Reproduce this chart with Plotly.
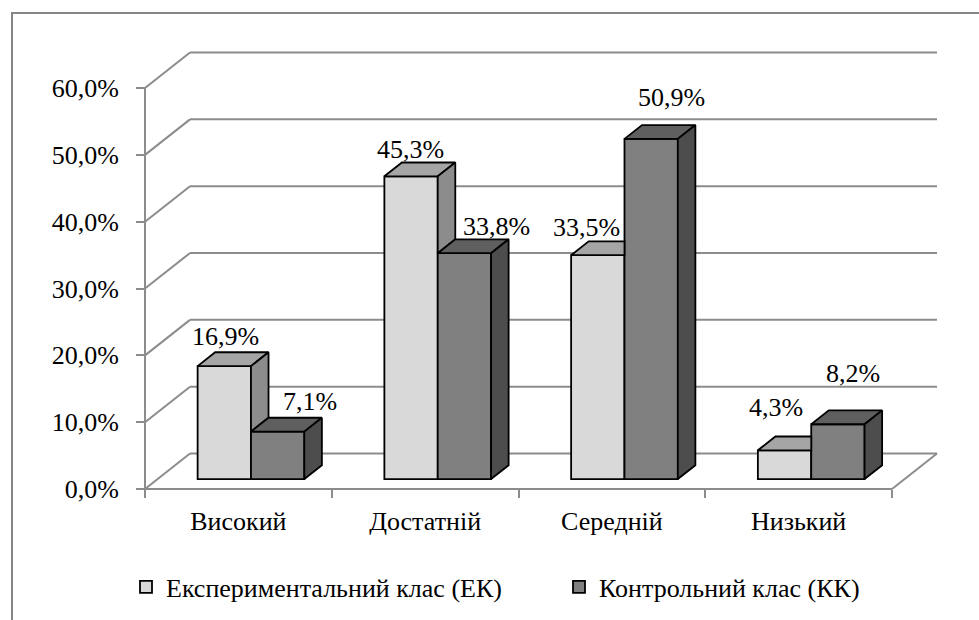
import plotly.graph_objects as go

# ---------------- data ----------------
categories = ["Високий", "Достатній", "Середній", "Низький"]
ek_values = [16.9, 45.3, 33.5, 4.3]
kk_values = [7.1, 33.8, 50.9, 8.2]
series_names = ["Експериментальний клас (ЕК)", "Контрольний клас (КК)"]
y_ticks = [0, 10, 20, 30, 40, 50, 60]
y_tick_text = [f"{v:.1f}%".replace(".", ",") for v in y_ticks]

# ---------------- style / geometry ----------------
W, H = 979, 620
X0_PX, Y0_PX = 145, 489          # front-left corner of the floor (0 %)
CAT_PX = 186.75                  # pixels per category
PCT_PX = 6.683                   # pixels per percent
DEPTH_PX = (45.0, 35.5)          # oblique depth of the 3-D box
DX = DEPTH_PX[0] / CAT_PX
DY = DEPTH_PX[1] / PCT_PX
F0, F1 = 0.28, 0.67              # bar front / back depth fractions
BAR_W = 1 / 3.5                  # gap width 150 %
GRID = "#8c8c8c"
FONT = "'Liberation Serif', 'Times New Roman', Tinos, 'DejaVu Serif', serif"
FS = 26
EDGE_W = 1.8
ek_cols = dict(front="#d9d9d9", top="#a5a5a5", side="#8c8c8c")
kk_cols = dict(front="#808080", top="#5f5f5f", side="#4d4d4d")
# label nudges in pixels (dx, dy) relative to the bar's front-top centre
ek_label_nudge = [(1, 30), (-1, 27), (-11, 28), (-9, 43)]
kk_label_nudge = [(32, 30), (32, 27), (20, 41), (15, 51)]
LEGEND_X_PX = (126, 559)
LEGEND_Y_PX = 587

ox0, oy0 = F0 * DX, F0 * DY
ox1, oy1 = F1 * DX, F1 * DY
n = len(categories)

xr = [-X0_PX / CAT_PX, (W - X0_PX) / CAT_PX]
yr = [-(H - Y0_PX) / PCT_PX, Y0_PX / PCT_PX]

fig = go.Figure()

# front faces as real bars
ek_x = [i + 0.5 - BAR_W / 2 + ox0 for i in range(n)]
kk_x = [i + 0.5 + BAR_W / 2 + ox0 for i in range(n)]
fig.add_trace(go.Bar(x=ek_x, y=ek_values, base=[oy0] * n, width=BAR_W,
                     name=series_names[0], legend="legend",
                     marker=dict(color=ek_cols["front"], line=dict(color="black", width=EDGE_W))))
fig.add_trace(go.Bar(x=kk_x, y=kk_values, base=[oy0] * n, width=BAR_W,
                     name=series_names[1], legend="legend2",
                     marker=dict(color=kk_cols["front"], line=dict(color="black", width=EDGE_W))))


def poly_trace(polys, color):
    xs, ys = [], []
    for p in polys:
        for (a, b) in p:
            xs.append(a)
            ys.append(b)
        xs.append(p[0][0]); ys.append(p[0][1])
        xs.append(None); ys.append(None)
    return go.Scatter(x=xs, y=ys, mode="lines", fill="toself", fillcolor=color,
                      line=dict(color="black", width=EDGE_W), showlegend=False,
                      hoverinfo="skip", connectgaps=False)


ek_tops, ek_sides, kk_tops, kk_sides = [], [], [], []
for i in range(n):
    hE, hK = ek_values[i], kk_values[i]
    xl = i + 0.5 - BAR_W          # left edge of EK in front plane
    xm = i + 0.5                  # shared edge
    xrgt = i + 0.5 + BAR_W        # right edge of KK
    a = xm + ox0
    if hK > hE:
        # the taller KK front hides the right-back part of the EK top
        ek_tops.append([(xl + ox0, hE + oy0), (a, hE + oy0), (a, hE + oy1), (xl + ox1, hE + oy1)])
    else:
        ek_tops.append([(xl + ox0, hE + oy0), (xm + ox0, hE + oy0),
                        (xm + ox1, hE + oy1), (xl + ox1, hE + oy1)])
        ek_sides.append([(xm + ox0, hK + oy0), (xm + ox1, hK + oy1),
                         (xm + ox1, hE + oy1), (xm + ox0, hE + oy0)])
    kk_tops.append([(xm + ox0, hK + oy0), (xrgt + ox0, hK + oy0),
                    (xrgt + ox1, hK + oy1), (xm + ox1, hK + oy1)])
    kk_sides.append([(xrgt + ox0, oy0), (xrgt + ox1, oy1),
                     (xrgt + ox1, hK + oy1), (xrgt + ox0, hK + oy0)])

fig.add_trace(poly_trace(ek_tops, ek_cols["top"]))
if ek_sides:
    fig.add_trace(poly_trace(ek_sides, ek_cols["side"]))
fig.add_trace(poly_trace(kk_tops, kk_cols["top"]))
fig.add_trace(poly_trace(kk_sides, kk_cols["side"]))

# walls / floor grid as shapes below the traces
shapes = []


def seg(x0, y0, x1, y1, color=GRID, width=2):
    return dict(type="line", x0=x0, y0=y0, x1=x1, y1=y1, layer="below",
                xref="x", yref="y", line=dict(color=color, width=width))


for v in y_ticks:
    shapes.append(seg(DX, v + DY, n + DX, v + DY))
    shapes.append(seg(0, v, DX, v + DY))
shapes.append(seg(0, 0, n, 0))
shapes.append(seg(n, 0, n + DX, DY))
shapes.append(seg(0, 0, 0, y_ticks[-1]))
# outer chart border (top & left visible)
shapes.append(dict(type="rect", xref="paper", yref="paper",
                   x0=12 / W, y0=1 - 13 / H, x1=1.02, y1=-0.02, layer="below",
                   line=dict(color="#868686", width=2), fillcolor="rgba(0,0,0,0)"))

# data labels
annotations = []
for vals, xs, nudges in ((ek_values, ek_x, ek_label_nudge), (kk_values, kk_x, kk_label_nudge)):
    for v, x, (ndx, ndy) in zip(vals, xs, nudges):
        annotations.append(dict(x=x, y=v + oy0, xref="x", yref="y",
                                text=f"{v:.1f}%".replace(".", ","), showarrow=False,
                                xanchor="center", yanchor="middle",
                                xshift=ndx, yshift=ndy,
                                font=dict(family=FONT, size=FS, color="black")))

legend_common = dict(orientation="h", y=1 - LEGEND_Y_PX / H, xanchor="left", yanchor="middle",
                     font=dict(family=FONT, size=FS, color="black"),
                     bgcolor="rgba(0,0,0,0)", itemclick=False, itemdoubleclick=False)

fig.update_layout(
    width=W, height=H, autosize=False,
    margin=dict(l=0, r=0, t=0, b=0),
    paper_bgcolor="white", plot_bgcolor="white",
    barmode="overlay",
    font=dict(family=FONT, size=FS, color="black"),
    shapes=shapes,
    annotations=annotations,
    showlegend=True,
    legend=dict(x=LEGEND_X_PX[0] / W, **legend_common),
    legend2=dict(x=LEGEND_X_PX[1] / W, **legend_common),
    xaxis=dict(range=xr, showgrid=False, zeroline=False, showline=False,
               tickmode="array", tickvals=[i + 0.5 for i in range(n)], ticktext=categories,
               ticks="", tickfont=dict(family=FONT, size=FS, color="black"),
               anchor="free", position=(H - Y0_PX) / H, ticklabelstandoff=14,
               minor=dict(tickmode="array", tickvals=list(range(n + 1)), ticks="outside",
                          ticklen=8, tickwidth=2, tickcolor=GRID),
               fixedrange=True),
    yaxis=dict(range=yr, showgrid=False, zeroline=False, showline=False,
               tickmode="array", tickvals=y_ticks, ticktext=y_tick_text,
               ticks="outside", ticklen=9, tickwidth=2, tickcolor=GRID,
               tickfont=dict(family=FONT, size=FS, color="black"),
               anchor="free", position=X0_PX / W, ticklabelstandoff=12,
               fixedrange=True),
)

fig.write_html("out.html", config={"displayModeBar": False, "staticPlot": True},
               post_script="document.body.style.margin='0';")
